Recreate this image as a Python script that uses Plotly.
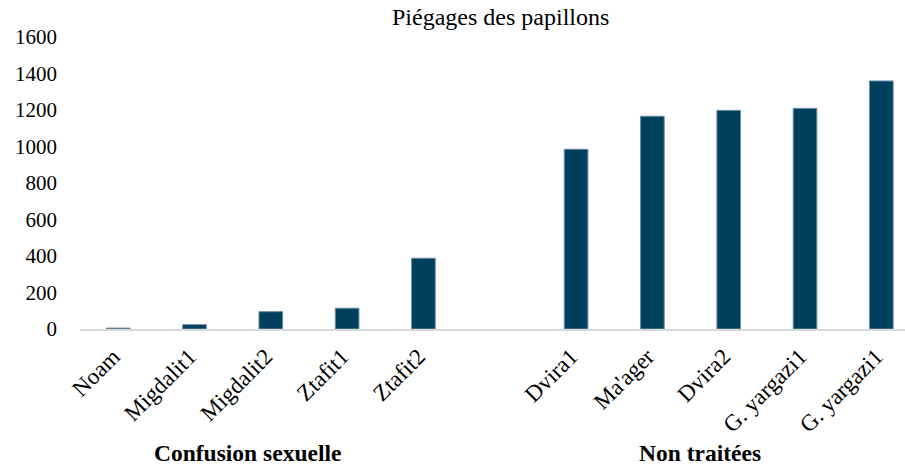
import plotly.graph_objects as go

title = "Piégages des papillons"
group1_name = "Confusion sexuelle"
group1_sites = ["Noam", "Migdalit1", "Migdalit2", "Ztafit1", "Ztafit2"]
group1_values = [5, 24, 95, 114, 388]
group2_name = "Non traitées"
group2_sites = ["Dvira1", "Ma'ager", "Dvira2", "G. yargazi1", "G. yargazi1"]
group2_values = [985, 1166, 1198, 1209, 1359]
y_ticks = [0, 200, 400, 600, 800, 1000, 1200, 1400, 1600]

# positions: one empty slot between the two groups
x1 = list(range(len(group1_sites)))
x2 = [len(group1_sites) + 1 + i for i in range(len(group2_sites))]
xs = x1 + x2
labels = group1_sites + group2_sites
values = group1_values + group2_values

FONT = "Liberation Serif, Times New Roman, serif"
BAR = "#00405f"
W, H = 905, 467
L, R, T, B = 80, 0, 37, 138
plot_h = H - T - B

fig = go.Figure()
fig.add_trace(go.Bar(
    x=xs, y=values, width=0.31,
    marker=dict(color=BAR, line=dict(color="#6f8ea1", width=1)),
    hoverinfo="skip",
))

fig.update_layout(
    width=W, height=H,
    margin=dict(l=L, r=R, t=T, b=B, autoexpand=False),
    paper_bgcolor="white", plot_bgcolor="white",
    showlegend=False,
    font=dict(family=FONT, color="#000000", size=21),
    xaxis=dict(
        range=[-0.5, 10.31], automargin=False,
        tickmode="array", tickvals=xs, ticktext=labels,
        tickangle=-45, showgrid=False, zeroline=False,
        showline=True, linecolor="#d9d9d9", linewidth=2,
        ticks="", ticklabelstandoff=3, ticklabelshift=-5,
        tickfont=dict(family=FONT, size=23, color="#000000"),
    ),
    yaxis=dict(
        range=[0, 1600], automargin=False,
        tickmode="array", tickvals=y_ticks,
        ticktext=[str(v) for v in y_ticks],
        showgrid=False, zeroline=False, showline=False, ticks="",
        ticklabelstandoff=22,
        tickfont=dict(family=FONT, size=21, color="#000000"),
    ),
    bargap=0.7,
)

# title as a paper-positioned annotation
fig.add_annotation(text=title, xref="paper", yref="paper",
                   x=(501 - L) / (W - L - R), y=(H - B - 17) / plot_h,
                   xanchor="center", yanchor="middle", showarrow=False,
                   font=dict(family=FONT, size=24, color="#000000"))

for name, xc in [(group1_name, 1.7), (group2_name, 7.63)]:
    fig.add_annotation(text="<b>" + name + "</b>", x=xc, xref="x",
                       y=(H - B - 453) / plot_h, yref="paper",
                       xanchor="center", yanchor="middle", showarrow=False,
                       font=dict(family=FONT, size=23.5, color="#000000"))

fig.write_html("out.html", config={"displayModeBar": False},
               post_script="document.body.style.margin='0';document.body.style.overflow='hidden';")
